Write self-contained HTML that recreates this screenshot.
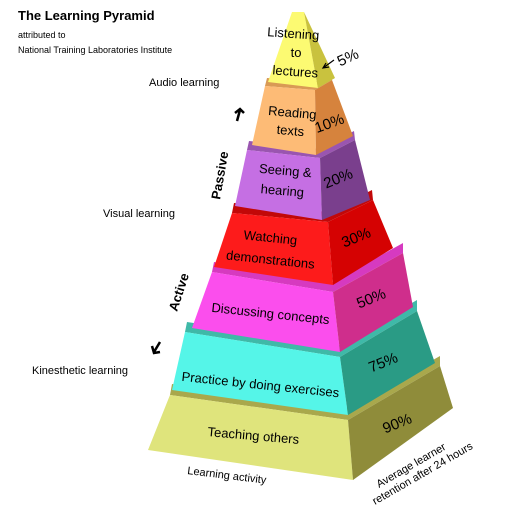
<!DOCTYPE html>
<html><head><meta charset="utf-8"><style>
html,body{margin:0;padding:0;background:#fff}
svg{display:block}
text{font-family:"Liberation Sans",sans-serif;fill:#000}
</style></head><body>
<svg width="521" height="521" viewBox="0 0 521 521" xmlns="http://www.w3.org/2000/svg">
<!-- tier 7 olive -->
<polygon points="170,395 348,420 440,366 440,356 348,408 172,384" fill="#a9a84c"/>
<polygon points="170,395 348,420 353,480 148,450" fill="#dfe47c"/>
<polygon points="348,420 440,366 453,408 353,480" fill="#8f8c3a"/>
<!-- tier 6 cyan -->
<polygon points="185,332 340,357 417,311 417,300 340,345 187,322" fill="#3fb9a8"/>
<polygon points="185,332 340,357 348,415 172,390" fill="#55f5e8"/>
<polygon points="340,357 417,311 435,363 348,415" fill="#2a9b85"/>
<!-- tier 5 magenta -->
<polygon points="212,272 333,292 403,253 403,243 333,282 214,262" fill="#d63ac0"/>
<polygon points="212,272 333,292 340,352 192,328" fill="#fb4eed"/>
<polygon points="333,292 403,253 413,307 340,352" fill="#cf2e8c"/>
<!-- tier 4 red -->
<polygon points="232,213 328,222 373,200 372,190 328,212 234,203" fill="#c20808"/>
<polygon points="232,213 328,222 333,285 214,267" fill="#fd1b1b"/>
<polygon points="328,222 373,200 393,248 333,285" fill="#d50202"/>
<!-- tier 3 purple -->
<polygon points="247,150 320,158 355,140 354,131 320,149 249,141" fill="#9a55b0"/>
<polygon points="247,150 320,158 322,220 235,206" fill="#c56fe3"/>
<polygon points="320,158 355,140 370,200 322,220" fill="#7a3f8d"/>
<!-- tier 2 orange -->
<polygon points="265,86 315,90 332,80 331,72 315,82 267,78" fill="#d99a55"/>
<polygon points="265,86 315,90 316,155 252,145" fill="#fdbb76"/>
<polygon points="315,90 332,80 353,136 316,155" fill="#d6833d"/>
<!-- tier 1 yellow -->
<polygon points="292,12 304,12 318,88 268,82" fill="#fcfa72"/>
<polygon points="304,12 335,78 318,88" fill="#c9c23e"/>

<!-- tier labels -->
<g font-size="13" text-anchor="middle">
<text x="293" y="38" transform="rotate(4 293 38)">Listening</text>
<text x="296" y="57">to</text>
<text x="295" y="76" transform="rotate(4 295 76)">lectures</text>
<text x="292" y="117" transform="rotate(5 292 117)">Reading</text>
<text x="290" y="135" transform="rotate(5 290 135)">texts</text>
<text x="285" y="175" transform="rotate(5 285 175)">Seeing &amp;</text>
<text x="282" y="195" transform="rotate(5 282 195)">hearing</text>
<text x="270" y="242" transform="rotate(6 270 242)">Watching</text>
<text x="270" y="264" transform="rotate(6 270 264)">demonstrations</text>
<text x="270" y="318" transform="rotate(6 270 318)">Discussing concepts</text>
<text x="260" y="389" transform="rotate(6 260 389)">Practice by doing exercises</text>
<text x="253" y="440" transform="rotate(5 253 440)">Teaching others</text>
</g>
<g font-size="15" text-anchor="middle">
<text x="350" y="62" transform="rotate(-25 350 62)">5%</text>
<text x="331" y="128" transform="rotate(-20 331 128)">10%</text>
<text x="340" y="183" transform="rotate(-22 340 183)">20%</text>
<text x="358" y="242" transform="rotate(-22 358 242)">30%</text>
<text x="373" y="303" transform="rotate(-22 373 303)">50%</text>
<text x="385" y="367" transform="rotate(-22 385 367)">75%</text>
<text x="399" y="428" transform="rotate(-22 399 428)">90%</text>
</g>
<path d="M329,67 L323,68 L326,63 M323,68 L334,60" stroke="#000" stroke-width="1.2" fill="none"/>

<!-- left labels -->
<text x="18" y="20" font-size="13" font-weight="bold">The Learning Pyramid</text>
<text x="18" y="38" font-size="9">attributed to</text>
<text x="18" y="53" font-size="9">National Training Laboratories Institute</text>
<text x="149" y="86" font-size="11">Audio learning</text>
<text x="103" y="217" font-size="11">Visual learning</text>
<text x="32" y="374" font-size="11">Kinesthetic learning</text>
<text x="220" y="200" font-size="13" font-weight="bold" transform="rotate(-80 220 200)">Passive</text>
<text x="177" y="312" font-size="13" font-weight="bold" transform="rotate(-72 177 312)">Active</text>
<path d="M237,121 L240,110 M235,113 L240,109 L244,113" stroke="#000" stroke-width="2.5" fill="none"/>
<path d="M160,342 L154,352 M152,346 L154,353 L160,352" stroke="#000" stroke-width="2.5" fill="none"/>
<text x="187" y="474" font-size="11" transform="rotate(7 187 474)">Learning activity</text>
<text x="379" y="488" font-size="11" transform="rotate(-30 379 488)">Average learner</text>
<text x="375" y="505" font-size="11" transform="rotate(-30 375 505)">retention after 24 hours</text>
</svg>
</body></html>
